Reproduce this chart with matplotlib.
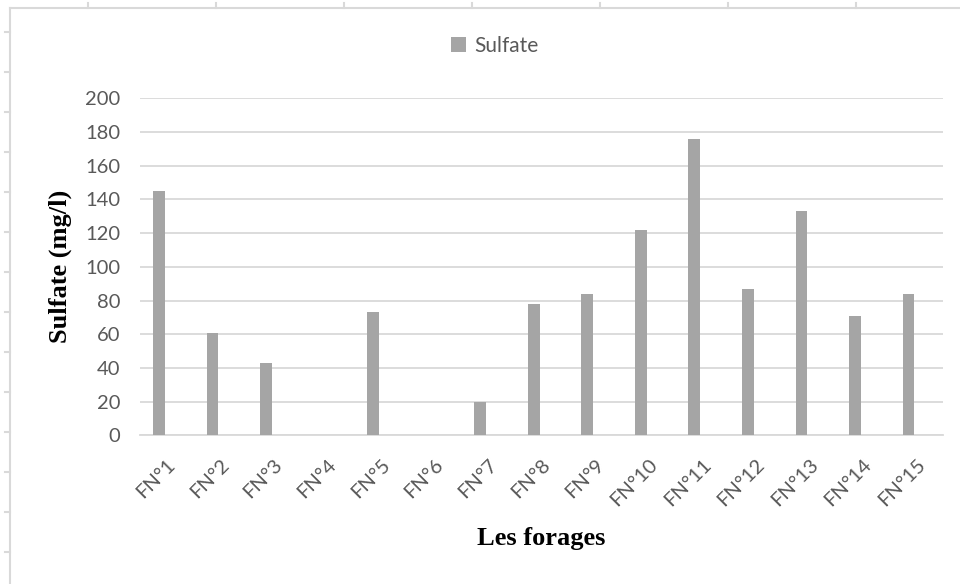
import matplotlib
matplotlib.use("Agg")
import matplotlib.pyplot as plt
from matplotlib.lines import Line2D
from matplotlib.transforms import ScaledTranslation
import numpy as np

categories = ["FN°1", "FN°2", "FN°3", "FN°4", "FN°5", "FN°6", "FN°7", "FN°8",
              "FN°9", "FN°10", "FN°11", "FN°12", "FN°13", "FN°14", "FN°15"]
sulfate = [145, 61, 43, 0, 73, 0, 20, 78, 84, 122, 176, 87, 133, 71, 84]
y_ticks = [0, 20, 40, 60, 80, 100, 120, 140, 160, 180, 200]

W, H = 960, 584
fig = plt.figure(figsize=(W / 100, H / 100), dpi=100)
fig.patch.set_facecolor("white")

ax = fig.add_axes([140 / W, 1 - 435.3 / H, (943 - 140) / W, (435.3 - 98.3) / H])

x = np.arange(len(categories))
bar_color = "#a5a5a5"
grid_color = "#d9d9d9"
text_color = "#595959"

ax.bar(x - 0.145, sulfate, width=0.22, color=bar_color, zorder=3, label="Sulfate")

ax.set_xlim(-0.5, len(categories) - 0.5)
ax.set_ylim(0, 200)
ax.set_yticks(y_ticks)
ax.set_yticklabels([str(v) for v in y_ticks], fontfamily="Lato", fontsize=14.5, color=text_color)
ax.set_xticks(x)
ax.set_xticklabels(categories, rotation=45, ha="right", rotation_mode="anchor",
                   fontfamily="Lato", fontsize=14.5, color=text_color)
shift = ScaledTranslation(-3 / 100, 0, fig.dpi_scale_trans)
for lbl in ax.get_xticklabels():
    lbl.set_transform(lbl.get_transform() + shift)
ax.tick_params(axis="x", length=0, pad=15)
ax.tick_params(axis="y", length=0, pad=14)

ax.yaxis.grid(True, color=grid_color, linewidth=1.3, zorder=0)
for s in ["top", "right", "left"]:
    ax.spines[s].set_visible(False)
ax.spines["bottom"].set_color(grid_color)
ax.spines["bottom"].set_linewidth(1.3)

ax.set_ylabel("Sulfate (mg/l)", fontfamily="Liberation Serif", fontweight="bold",
              fontsize=19, color="black")
ax.yaxis.set_label_coords(72 / W, 1 - 266.8 / H, transform=fig.transFigure)
ax.set_xlabel("Les forages", fontfamily="Liberation Serif", fontweight="bold",
              fontsize=19, color="black")
ax.xaxis.set_label_coords(541.5 / W, 1 - 527 / H, transform=fig.transFigure)

leg = fig.legend(loc="center", bbox_to_anchor=(495 / W, 1 - 46 / H),
                 frameon=False, handlelength=0.7, handleheight=0.7,
                 handletextpad=0.4, prop={"family": "Lato", "size": 15})
for t in leg.get_texts():
    t.set_color(text_color)

# outer frame with ruler ticks
frame_color = "#d9d9d9"
def px_line(xs, ys):
    fig.add_artist(Line2D([v / W for v in xs], [1 - v / H for v in ys],
                          color=frame_color, linewidth=1.5, transform=fig.transFigure))

px_line([10, W], [8, 8])
px_line([10, 10], [8, H])
for tx in range(88, W, 128):
    px_line([tx, tx], [3, 8])
for ty in range(32, H, 40):
    px_line([5, 10], [ty, ty])

fig.savefig("out.png", dpi=100, facecolor="white")
